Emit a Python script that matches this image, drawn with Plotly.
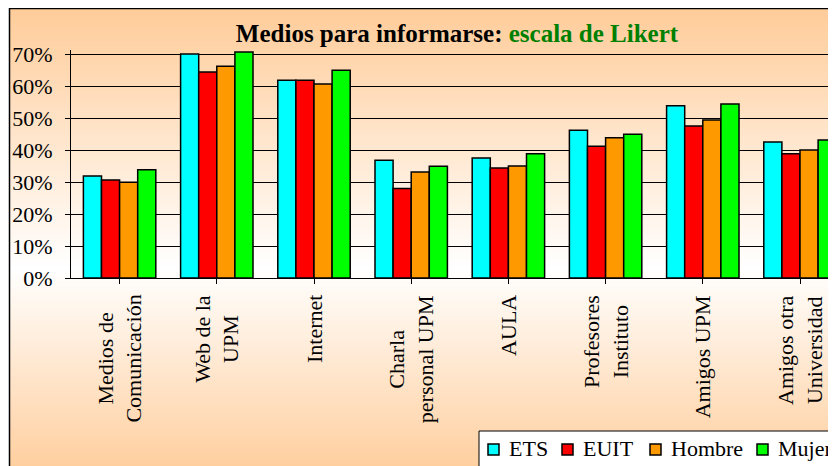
import plotly.graph_objects as go

# ---------------- data ----------------
categories = ["Medios de<br>Comunicación", "Web de la<br>UPM", "Internet",
              "Charla<br>personal UPM", "AULA", "Profesores<br>Instituto",
              "Amigos UPM", "Amigos otra<br>Universidad"]
series_names = ["ETS", "EUIT", "Hombre", "Mujer"]
ets = [31.9, 70.0, 61.8, 36.8, 37.5, 46.2, 53.8, 42.5]
euit = [30.6, 64.4, 61.8, 28.0, 34.4, 41.2, 47.5, 38.8]
hombre = [29.9, 66.2, 60.6, 33.1, 35.0, 43.8, 49.4, 40.0]
mujer = [33.8, 70.6, 64.9, 34.9, 38.8, 44.9, 54.4, 43.1]
y_ticks = [0, 10, 20, 30, 40, 50, 60, 70]
y_tick_labels = ["0%", "10%", "20%", "30%", "40%", "50%", "60%", "70%"]

colors = ["#00FFFF", "#FF0000", "#FF9900", "#00FF00"]
x_idx = list(range(len(categories)))

# ---------------- geometry (window pixels; page has an 8px body offset) ----------------
OFF = 8
W, H = 836, 466
L, T = 63, 42
PLOT_BOTTOM_WIN = 278
B = H - (PLOT_BOTTOM_WIN - OFF)
R = 0
PW, PH = W - L - R, H - T - B
CAT_PX = 97.2      # pixel width of one category
PCT_PX = 3.2       # pixels per 1 %


def fx(px):  # window x pixel -> paper x
    return (px - OFF - L) / PW


def fy(py):  # window y pixel -> paper y
    return (PLOT_BOTTOM_WIN - py) / PH


SERIF = "Liberation Serif"

fig = go.Figure()
for name, vals, col in zip(series_names, [ets, euit, hombre, mujer], colors):
    fig.add_trace(go.Bar(
        x=x_idx, y=vals, name=name, showlegend=False,
        marker=dict(color=col, line=dict(color="#000000", width=1.5)),
    ))

# ---------------- background gradient (peach -> white -> peach) ----------------
shapes = []
peach = (255, 204, 153)
top_px, mid_px, bot_px = 8, 268, 480
step = 3
y = top_px
while y < bot_px:
    yc = y + step / 2
    if yc <= mid_px:
        t = (mid_px - yc) / (mid_px - top_px)
    else:
        t = (yc - mid_px) / (bot_px - mid_px)
    t = max(0.0, min(1.0, t))
    c = tuple(round(255 + (p - 255) * t) for p in peach)
    shapes.append(dict(
        type="rect", xref="paper", yref="paper", layer="below",
        x0=fx(9), x1=fx(W + 20), y0=fy(y + step + 0.5), y1=fy(y),
        fillcolor="rgb(%d,%d,%d)" % c, line=dict(width=0),
    ))
    y += step
# outer border
shapes.append(dict(
    type="rect", xref="paper", yref="paper", layer="below",
    x0=fx(9.5), x1=fx(W + 30), y0=fy(H + 30), y1=fy(8.6),
    fillcolor="rgba(0,0,0,0)", line=dict(color="#000000", width=1.5),
))

# ---------------- manual legend box ----------------
leg_left, leg_right, leg_top = 479, 832, 431
leg_marker_x = [488, 562, 650, 757]   # layout positions of legend keys (window px)
leg_text_gap = 19
leg_row_y = 448
shapes.append(dict(
    type="rect", xref="paper", yref="paper", layer="above",
    x0=fx(leg_left), x1=fx(leg_right), y0=fy(H + 30), y1=fy(leg_top),
    fillcolor="#FFFFFF", line=dict(color="#000000", width=1),
))
annotations = []
for name, col, mx in zip(series_names, colors, leg_marker_x):
    shapes.append(dict(
        type="rect", xref="paper", yref="paper", layer="above",
        x0=fx(mx), x1=fx(mx + 11), y0=fy(leg_row_y + 7), y1=fy(leg_row_y - 4),
        fillcolor=col, line=dict(color="#000000", width=1.5),
    ))
    annotations.append(dict(
        x=fx(mx + leg_text_gap), xref="paper", y=fy(leg_row_y), yref="paper",
        text=name, showarrow=False, xanchor="left", yanchor="middle",
        font=dict(family=SERIF, size=22, color="#000000"),
    ))

# ---------------- category labels ----------------
for i, cat in enumerate(categories):
    annotations.append(dict(
        x=i, xref="x", y=fy(293), yref="paper",
        text=cat, showarrow=False, textangle=-90,
        xanchor="center", yanchor="top", align="center",
        font=dict(family=SERIF, size=22, color="#000000"),
    ))

fig.update_layout(
    width=W, height=H,
    margin=dict(l=L, r=R, t=T, b=B, autoexpand=False),
    paper_bgcolor="#FFFFFF",
    plot_bgcolor="rgba(0,0,0,0)",
    font=dict(family=SERIF, color="#000000"),
    barmode="group", bargap=0.255, bargroupgap=0.0,
    title=dict(
        text="<b>Medios para informarse: <span style='color:#008000'>escala de Likert</span></b>",
        x=fx(457), xref="paper", xanchor="center",
        y=1 - (33 - OFF) / H, yref="container", yanchor="middle",
        font=dict(family=SERIF, size=25, color="#000000"),
    ),
    xaxis=dict(
        range=[-0.5, -0.5 + PW / CAT_PX], tickmode="array", tickvals=x_idx,
        showticklabels=False, tickson="boundaries", ticks="outside",
        ticklen=5, tickcolor="#000000", tickwidth=1,
        showline=True, linecolor="#000000", linewidth=1,
        showgrid=False, zeroline=False,
    ),
    yaxis=dict(
        range=[0, PH / PCT_PX], tickmode="array", tickvals=y_ticks,
        ticktext=y_tick_labels, ticks="outside", ticklen=5, tickcolor="#000000",
        tickwidth=1, ticklabelstandoff=8,
        showline=True, linecolor="#000000", linewidth=1,
        showgrid=True, gridcolor="#000000", gridwidth=1,
        zeroline=False,
        tickfont=dict(family=SERIF, size=22, color="#000000"),
    ),
    shapes=shapes,
    annotations=annotations,
    showlegend=False,
)

fig.write_html("out.html")
